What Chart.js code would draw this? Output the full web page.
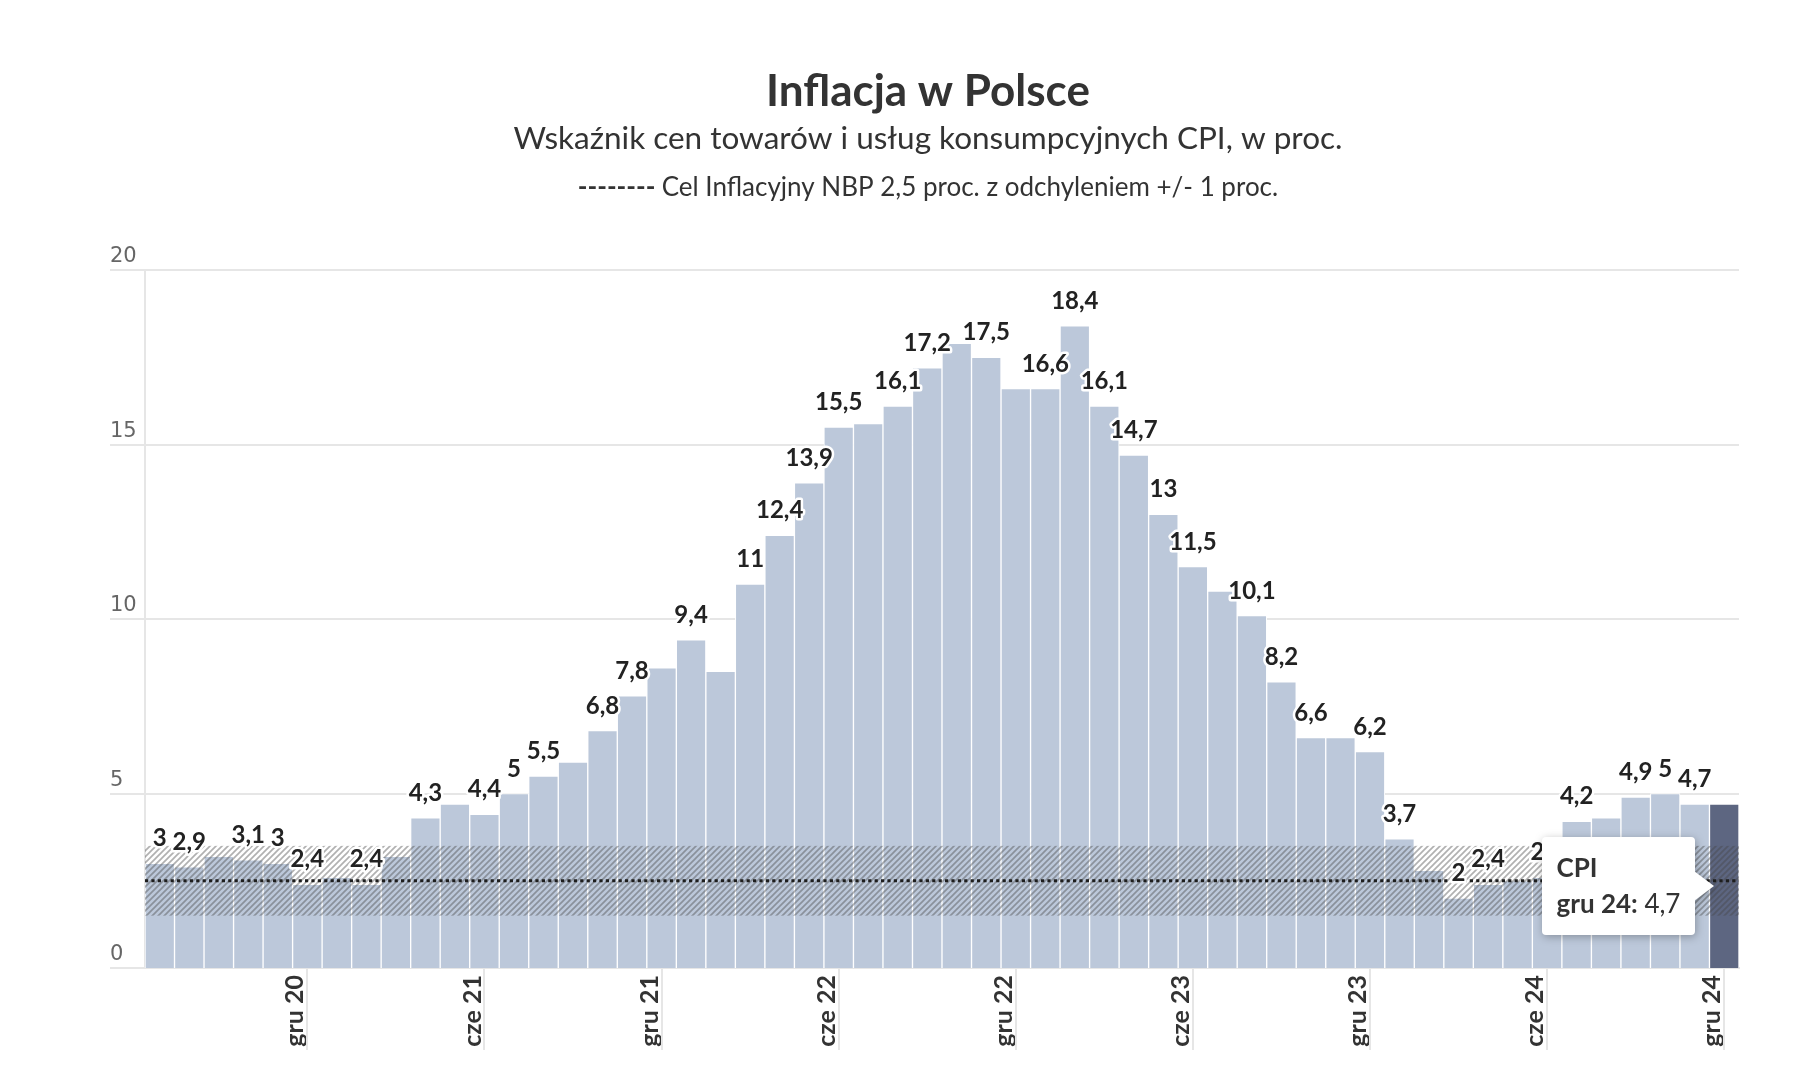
<!DOCTYPE html>
<html lang="pl">
<head>
<meta charset="utf-8">
<title>Inflacja w Polsce</title>
<script src="https://cdn.jsdelivr.net/npm/chart.js@4.4.1/dist/chart.umd.min.js"></script>
<style>
    html, body { margin: 0; padding: 0; background: #fff; }
    #wrap { position: relative; width: 1800px; height: 1076px; }
    #tip {
        position: absolute; display: none; background: #fff; border-radius: 4px;
        padding: 12px 15px 14px 14px; font-family: Lato, sans-serif; font-size: 26px;
        line-height: 36px; color: #333; white-space: nowrap;
        filter: drop-shadow(1px 2px 4px rgba(0,0,0,0.28));
    }
    #tip:after {
        content: ''; position: absolute; right: -19px; top: 50%; margin-top: -15px;
        border-left: 20px solid #fff; border-top: 15px solid transparent; border-bottom: 15px solid transparent;
    }
</style>
</head>
<body>
<div id="wrap">
    <canvas id="myChart" width="1800" height="1076"></canvas>
    <div id="tip"></div>
</div>
<script>
// data
const months = [
    'lip 20', 'sie 20', 'wrz 20', 'paź 20', 'lis 20', 'gru 20',
    'sty 21', 'lut 21', 'mar 21', 'kwi 21', 'maj 21', 'cze 21', 'lip 21', 'sie 21', 'wrz 21', 'paź 21', 'lis 21', 'gru 21',
    'sty 22', 'lut 22', 'mar 22', 'kwi 22', 'maj 22', 'cze 22', 'lip 22', 'sie 22', 'wrz 22', 'paź 22', 'lis 22', 'gru 22',
    'sty 23', 'lut 23', 'mar 23', 'kwi 23', 'maj 23', 'cze 23', 'lip 23', 'sie 23', 'wrz 23', 'paź 23', 'lis 23', 'gru 23',
    'sty 24', 'lut 24', 'mar 24', 'kwi 24', 'maj 24', 'cze 24', 'lip 24', 'sie 24', 'wrz 24', 'paź 24', 'lis 24', 'gru 24'
]
const cpi = [
    3.0, 2.9, 3.2, 3.1, 3.0, 2.4,
    2.6, 2.4, 3.2, 4.3, 4.7, 4.4, 5.0, 5.5, 5.9, 6.8, 7.8, 8.6,
    9.4, 8.5, 11.0, 12.4, 13.9, 15.5, 15.6, 16.1, 17.2, 17.9, 17.5, 16.6,
    16.6, 18.4, 16.1, 14.7, 13.0, 11.5, 10.8, 10.1, 8.2, 6.6, 6.6, 6.2,
    3.7, 2.8, 2.0, 2.4, 2.5, 2.6, 4.2, 4.3, 4.9, 5.0, 4.7, 4.7
]
const yTicks = [0, 5, 10, 15, 20]
const tickMonths = ['cze', 'gru']
const targetBand = [1.5, 3.5]
const targetLine = 2.5
// labels removed because they overlapped their neighbours
const hiddenLabels = [2, 6, 8, 10, 14, 17, 19, 24, 27, 29, 36, 40, 43, 46, 49, 53]

const barColor = '#bcc8da'
const activeColor = '#5d6681'
const gridColor = '#e6e6e6'

function fmt(v){
    return String(v).replace('.', ',')
}
function isTick(i){
    return tickMonths.indexOf(months[i].split(' ')[0]) !== -1
}

// hatch pattern for the NBP target band
function hatch(ctx){
    let c = document.createElement('canvas')
    c.width = 6; c.height = 6
    let p = c.getContext('2d')
    p.strokeStyle = 'rgba(70,70,70,0.42)'
    p.lineWidth = 1.7
    p.beginPath()
    p.moveTo(-1, 7); p.lineTo(7, -1)
    p.moveTo(-1, 1); p.lineTo(1, -1)
    p.moveTo(5, 7); p.lineTo(7, 5)
    p.stroke()
    return ctx.createPattern(c, 'repeat')
}

const frame = {
    id: 'frame',
    beforeDatasetsDraw(chart){
        const ctx = chart.ctx, area = chart.chartArea
        const y = chart.scales.y, x = chart.scales.x
        ctx.save()
        // titles
        ctx.fillStyle = '#333'
        ctx.textAlign = 'center'
        ctx.textBaseline = 'alphabetic'
        ctx.font = 'bold 44px Lato'
        ctx.fillText('Inflacja w Polsce', 928, 106)
        ctx.font = '31.5px Lato'
        ctx.fillText('Wskaźnik cen towarów i usług konsumpcyjnych CPI, w proc.', 928, 149)
        let dash = '-------- ', rest = 'Cel Inflacyjny NBP 2,5 proc. z odchyleniem +/- 1 proc.'
        ctx.font = 'bold 26px Lato'
        let w1 = ctx.measureText(dash).width
        ctx.font = '26px Lato'
        let w2 = ctx.measureText(rest).width
        let left = 928 - (w1 + w2) / 2
        ctx.textAlign = 'left'
        ctx.font = 'bold 26px Lato'
        ctx.fillText(dash, left, 196)
        ctx.font = '26px Lato'
        ctx.fillText(rest, left + w1, 196)

        // y grid and labels
        ctx.strokeStyle = gridColor
        ctx.lineWidth = 2
        ctx.font = '21px "DejaVu Sans"'
        ctx.fillStyle = '#666'
        yTicks.forEach(function(v){
            let py = Math.round(y.getPixelForValue(v))
            ctx.beginPath()
            ctx.moveTo(110, py); ctx.lineTo(area.right, py)
            ctx.stroke()
            ctx.fillText(String(v), 110, py - 8)
        })
        // y axis line
        ctx.beginPath()
        ctx.moveTo(area.left, area.top); ctx.lineTo(area.left, area.bottom)
        ctx.stroke()
        // x tick marks
        months.forEach(function(m, i){
            if(!isTick(i)) return
            let px = Math.round(x.getPixelForValue(i))
            ctx.beginPath()
            ctx.moveTo(px, area.bottom); ctx.lineTo(px, area.bottom + 82)
            ctx.stroke()
        })
        ctx.restore()
    },
    afterDatasetsDraw(chart){
        const ctx = chart.ctx, area = chart.chartArea, y = chart.scales.y
        ctx.save()
        // target band
        let top = y.getPixelForValue(targetBand[1]), bottom = y.getPixelForValue(targetBand[0])
        ctx.fillStyle = hatch(ctx)
        ctx.fillRect(area.left, top, area.right - area.left, bottom - top)
        // target line
        let ly = y.getPixelForValue(targetLine)
        ctx.strokeStyle = '#1e1e1e'
        ctx.lineWidth = 3.2
        ctx.setLineDash([3.2, 3.2])
        ctx.beginPath()
        ctx.moveTo(area.left, ly); ctx.lineTo(area.right, ly)
        ctx.stroke()
        ctx.setLineDash([])
        // data labels
        const meta = chart.getDatasetMeta(0)
        ctx.font = 'bold 24px Lato'
        ctx.textAlign = 'center'
        ctx.textBaseline = 'alphabetic'
        ctx.lineJoin = 'round'
        meta.data.forEach(function(bar, i){
            if(hiddenLabels.indexOf(i) !== -1) return
            let t = fmt(cpi[i])
            ctx.strokeStyle = '#fff'
            ctx.lineWidth = 5
            ctx.strokeText(t, bar.x, bar.y - 17)
            ctx.fillStyle = '#222'
            ctx.fillText(t, bar.x, bar.y - 17)
        })
        ctx.restore()
    }
}

// tooltip, html so the point name can be bold
function showTip(context){
    const tip = context.tooltip
    const div = document.getElementById('tip')
    if(!tip.dataPoints || !tip.dataPoints.length){
        div.style.display = 'none'
        return
    }
    const item = tip.dataPoints[0]
    const el = item.element
    div.innerHTML = '<b>' + item.dataset.label + '</b><br><b>' + item.label + ':</b> ' + fmt(item.raw)
    div.style.display = 'block'
    let tipX = el.x - el.width / 2 + 5
    let tipY = (el.y + el.base) / 2
    div.style.left = (tipX - 19 - div.offsetWidth) + 'px'
    div.style.top = (tipY - div.offsetHeight / 2) + 'px'
}

let colors = cpi.map(function(v, i){ return i === cpi.length - 1 ? activeColor : barColor })

var ctx = document.getElementById('myChart').getContext('2d')
var myChart = new Chart(ctx, {
    type: 'bar',
    data: {
        labels: months,
        datasets: [{
            label: 'CPI',
            data: cpi,
            backgroundColor: colors,
            hoverBackgroundColor: colors,
            borderColor: '#fff',
            hoverBorderColor: '#fff',
            borderWidth: 1,
            borderSkipped: 'bottom',
            categoryPercentage: 1,
            barPercentage: 1
        }]
    },
    plugins: [frame],
    options: {
        responsive: false,
        animation: false,
        events: [],
        layout: { padding: { top: 270, left: 145, right: 61, bottom: 0 } },
        scales: {
            y: { display: false, min: 0, max: 20 },
            x: {
                grid: { display: false, drawTicks: false },
                border: { display: true, color: gridColor, width: 2 },
                ticks: {
                    autoSkip: false,
                    maxRotation: 90,
                    minRotation: 90,
                    padding: 7,
                    labelOffset: -12,
                    color: '#333',
                    font: { family: 'Lato', size: 25, weight: 'bold' },
                    callback: function(v, i){ return isTick(i) ? months[i] : '' }
                },
                afterFit: function(scale){ scale.height = 108 }
            }
        },
        plugins: {
            legend: { display: false },
            tooltip: { enabled: false, animation: false, external: showTip }
        }
    }
})

myChart.tooltip.setActiveElements([{ datasetIndex: 0, index: cpi.length - 1 }], { x: 0, y: 0 })
</script>
</body>
</html>
